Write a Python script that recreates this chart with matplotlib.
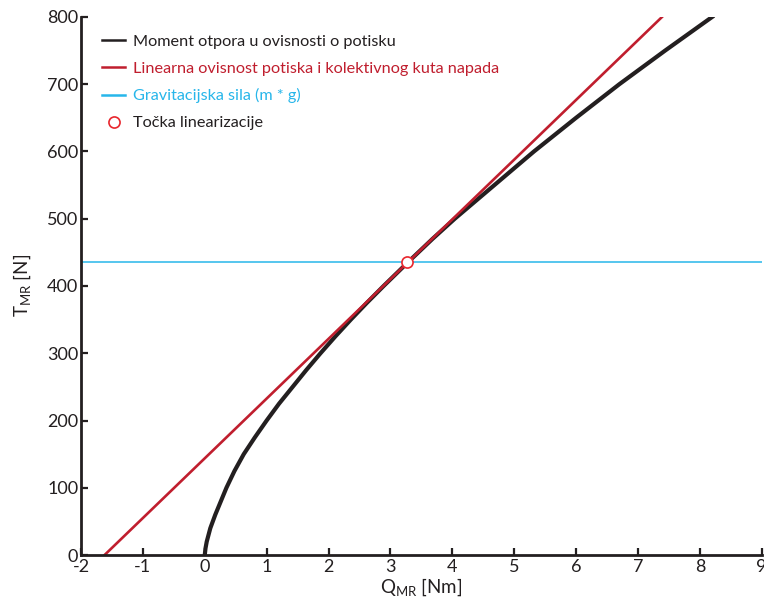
import numpy as np
import matplotlib.pyplot as plt

plt.rcParams['font.family'] = ['Lato', 'DejaVu Sans']
plt.rcParams['mathtext.default'] = 'regular'
plt.rcParams['axes.unicode_minus'] = False

# black curve: thrust vs. rotor torque
thrust_T = [0, 10, 20, 40, 60, 80, 100, 125, 150, 175, 200, 225, 250, 275,
            300, 325, 350, 375, 400, 435, 470, 500, 550, 600, 650, 700, 750, 800]
torque_Q = [0, 0.012, 0.032, 0.09, 0.17, 0.26, 0.35, 0.48, 0.63, 0.81, 1.00,
            1.20, 1.42, 1.64, 1.87, 2.11, 2.36, 2.62, 2.89, 3.28, 3.68, 4.04,
            4.68, 5.32, 6.00, 6.70, 7.44, 8.20]

# red line: linearised relation (end points)
lin_Q = [-1.62, 7.39]
lin_T = [0, 800]

# gravity force (m * g) and linearisation point
mg = 435
lin_point_Q = 3.27
lin_point_T = 435

labels = ["Moment otpora u ovisnosti o potisku",
          "Linearna ovisnost potiska i kolektivnog kuta napada",
          "Gravitacijska sila (m * g)",
          "Točka linearizacije"]

dark = '#231f20'
red = '#c01e2e'
blue = '#27b6ea'

fig = plt.figure(figsize=(7.64, 6.04), dpi=100)
ax = fig.add_axes([0.106, 0.081, 0.891, 0.891])

ax.plot(torque_Q, thrust_T, color=dark, lw=3.0, label=labels[0],
        solid_joinstyle='round')
ax.plot(lin_Q, lin_T, color=red, lw=1.9, label=labels[1])
ax.axhline(mg, color=blue, lw=1.1, label=labels[2])
ax.plot([lin_point_Q], [lin_point_T], 'o', ms=8, mfc='white', mec='#e8262d',
        mew=1.2, ls='none', label=labels[3], zorder=5)

ax.set_xlim(-2, 9)
ax.set_ylim(0, 800)
ax.set_xticks(range(-2, 10))
ax.set_yticks(range(0, 801, 100))

for s in ['top', 'right']:
    ax.spines[s].set_visible(False)
for s in ['left', 'bottom']:
    ax.spines[s].set_linewidth(2.0)
    ax.spines[s].set_color(dark)

ax.tick_params(direction='in', length=5, width=1.6, colors=dark,
               labelsize=13, pad=3)
ax.tick_params(axis='y', pad=2)

ax.set_xlabel('Q$_{MR}$ [Nm]', fontsize=13.5, color=dark, labelpad=1)
ax.set_ylabel('T$_{MR}$ [N]', fontsize=13.5, color=dark, labelpad=10)

leg = ax.legend(loc='upper left', bbox_to_anchor=(0.01, 0.995), frameon=False,
                fontsize=11.7, handlelength=1.4, handletextpad=0.5,
                labelspacing=0.78)
for txt, c in zip(leg.get_texts(), [dark, red, blue, dark]):
    txt.set_color(c)
for h in leg.get_lines()[:3]:
    h.set_linewidth(1.8)

fig.savefig('out.png', dpi=100)
